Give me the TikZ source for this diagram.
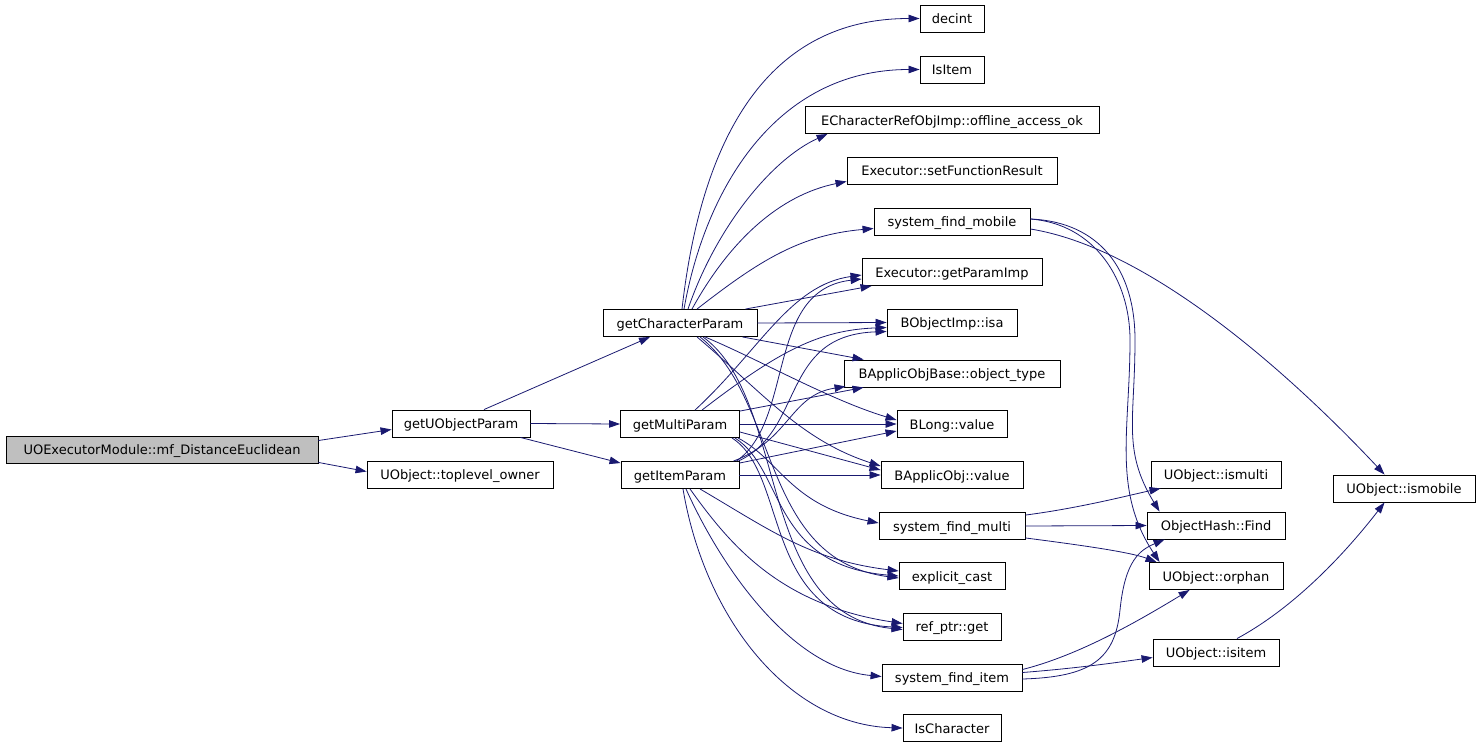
\documentclass[tikz,border=0pt]{standalone}
\usepackage{fontspec}
\setmainfont{DejaVu Sans}
\usetikzlibrary{arrows.meta,calc}
\definecolor{edgeblue}{RGB}{25,25,112}
\tikzset{
  fn/.style={draw=black, line width=0.9pt, fill=white, rectangle, minimum height=27pt, inner sep=0pt, text height=13pt, text depth=3pt, font=\fontsize{13}{15}\selectfont},
  rootfn/.style={fn, fill=black!25},
  call/.style={draw=edgeblue, line width=0.8pt, -{Triangle[length=11pt,width=7.5pt]}},
}
\begin{document}
\begin{tikzpicture}[x=1pt,y=-1pt]
\useasboundingbox (0,0) rectangle (1480,747);
% nodes
\node[rootfn, minimum width=312pt] (mf) at (162,449.5) {UOExecutorModule::mf\_DistanceEuclidean};
\node[fn, minimum width=138pt] (guop) at (461,423.5) {getUObjectParam};
\node[fn, minimum width=186pt] (tlo) at (460,474.5) {UObject::toplevel\_owner};
\node[fn, minimum width=154pt] (gcp) at (680,323) {getCharacterParam};
\node[fn, minimum width=119pt] (gmp) at (680,424) {getMultiParam};
\node[fn, minimum width=118pt] (gip) at (680,475) {getItemParam};
\node[fn, minimum width=64pt] (decint) at (952,18.5) {decint};
\node[fn, minimum width=64pt] (isitemF) at (952,69.5) {IsItem};
\node[fn, minimum width=294pt] (ecr) at (952,120) {ECharacterRefObjImp::offline\_access\_ok};
\node[fn, minimum width=210pt] (sfr) at (952,170.5) {Executor::setFunctionResult};
\node[fn, minimum width=156pt] (sfmob) at (952,221.5) {system\_find\_mobile};
\node[fn, minimum width=180pt] (gpi) at (952,272) {Executor::getParamImp};
\node[fn, minimum width=130pt] (isa) at (952,322.5) {BObjectImp::isa};
\node[fn, minimum width=216pt] (aot) at (952,373.5) {BApplicObjBase::object\_type};
\node[fn, minimum width=110pt] (blong) at (952,424) {BLong::value};
\node[fn, minimum width=142pt] (baov) at (952,475) {BApplicObj::value};
\node[fn, minimum width=146pt] (sfmul) at (952,526) {system\_find\_multi};
\node[fn, minimum width=106pt] (ecast) at (952,576) {explicit\_cast};
\node[fn, minimum width=98pt] (refget) at (952,626.5) {ref\_ptr::get};
\node[fn, minimum width=140pt] (sfitem) at (952,677.5) {system\_find\_item};
\node[fn, minimum width=98pt] (ischar) at (952,728) {IsCharacter};
\node[fn, minimum width=130pt] (ismulti) at (1216,474.5) {UObject::ismulti};
\node[fn, minimum width=138pt] (find) at (1216,525.5) {ObjectHash::Find};
\node[fn, minimum width=134pt] (orphan) at (1216,576) {UObject::orphan};
\node[fn, minimum width=126pt] (uisitem) at (1216,652.5) {UObject::isitem};
\node[fn, minimum width=142pt] (ismobile) at (1404,488.5) {UObject::ismobile};
% level 1
\draw[call] ($(mf.east)+(0,-9)$) -- ($(guop.west)+(0,6)$);
\draw[call] ($(mf.south east)+(0,-1)$) -- ($(tlo.west)+(0,-3)$);
% level 2
\draw[call] ($(guop.north)+(23,0)$) -- ($(gcp.south)+(-30,0)$);
\draw[call] (guop.east) -- (gmp.west);
\draw[call] ($(guop.south east)+(-10,0)$) -- ($(gip.north west)+(0,2)$);
% getCharacterParam
\draw[call] ($(gcp.north)+(2,0)$) .. controls (700,150) and (760,18.5) .. (decint.west);
\draw[call] ($(gcp.north)+(4,0)$) .. controls (705,190) and (775,69.5) .. (isitemF.west);
\draw[call] ($(gcp.north)+(8,0)$) .. controls (715,230) and (770,160) .. ($(ecr.south west)+(23,0)$);
\draw[call] ($(gcp.north)+(12,0)$) .. controls (730,240) and (780,195) .. ($(sfr.south west)+(0,-3)$);
\draw[call] ($(gcp.north)+(17,0)$) .. controls (760,260) and (800,235) .. ($(sfmob.west)+(0,7)$);
\draw[call] ($(gcp.north east)+(-12,0)$) -- ($(gpi.south west)+(10,0)$);
\draw[call] (gcp.east) -- (isa.west);
\draw[call] ($(gcp.south east)+(-15,0)$) -- ($(aot.north west)+(20,0)$);
\draw[call] ($(gcp.south)+(25,0)$) .. controls (760,360) and (830,400) .. ($(blong.west)+(0,-4)$);
\draw[call] ($(gcp.south)+(17,0)$) .. controls (760,390) and (800,440) .. ($(baov.west)+(0,-9)$);
\draw[call] ($(gcp.south)+(20,0)$) .. controls (780,400) and (760,560) .. ($(ecast.west)+(0,2)$);
\draw[call] ($(gcp.south)+(23,0)$) .. controls (790,400) and (755,615) .. ($(refget.west)+(0,3)$);
% getMultiParam
\draw[call] ($(gmp.north)+(15,0)$) .. controls (760,350) and (790,285) .. ($(gpi.west)+(0,3)$);
\draw[call] ($(gmp.north)+(22,0)$) .. controls (780,350) and (820,330) .. ($(isa.west)+(0,5)$);
\draw[call] ($(gmp.north east)+(0,1)$) -- ($(aot.south west)+(20,0)$);
\draw[call] (gmp.east) -- (blong.west);
\draw[call] ($(gmp.east)+(0,8)$) -- ($(baov.west)+(0,-5)$);
\draw[call] ($(gmp.south east)+(-2,0)$) .. controls (780,460) and (790,505) .. ($(sfmul.west)+(0,-3)$);
\draw[call] ($(gmp.south east)+(-5,0)$) .. controls (785,470) and (770,565) .. (ecast.west);
\draw[call] ($(gmp.south east)+(-8,0)$) .. controls (790,475) and (760,620) .. ($(refget.west)+(0,1)$);
% getItemParam
\draw[call] ($(gip.north east)+(-3,0)$) .. controls (795,420) and (765,290) .. ($(gpi.west)+(0,7)$);
\draw[call] ($(gip.north east)+(-1,0)$) .. controls (805,430) and (780,335) .. ($(isa.west)+(0,9)$);
\draw[call] ($(gip.north east)+(-6,0)$) .. controls (790,440) and (790,395) .. ($(aot.south west)+(2,-1)$);
\draw[call] ($(gip.north east)+(0,2)$) -- ($(blong.west)+(0,7)$);
\draw[call] (gip.east) -- (baov.west);
\draw[call] ($(gip.south)+(20,0)$) .. controls (770,530) and (810,560) .. ($(ecast.west)+(0,-5)$);
\draw[call] ($(gip.south)+(10,0)$) .. controls (730,545) and (780,605) .. ($(refget.west)+(0,-3)$);
\draw[call] ($(gip.south)+(6,0)$) .. controls (720,565) and (790,668) .. ($(sfitem.west)+(0,-1)$);
\draw[call] ($(gip.south)+(3,0)$) .. controls (705,620) and (790,725) .. (ischar.west);
% system_find_mobile
\draw[call] ($(sfmob.east)+(0,-2.5)$) .. controls (1100,222) and (1135,270) .. (1135,340) .. controls (1135,420) and (1122,450) .. ($(find.north west)+(13,0)$);
\draw[call] ($(sfmob.east)+(0,-2.5)$) .. controls (1095,224) and (1130,280) .. (1130,340) .. controls (1130,430) and (1112,490) .. ($(orphan.north west)+(11,0)$);
\draw[call] ($(sfmob.east)+(0,7.5)$) .. controls (1160,250) and (1310,395) .. ($(ismobile.north west)+(52,0)$);
% system_find_multi
\draw[call] ($(sfmul.north east)+(0,3)$) .. controls (1080,508) and (1130,495) .. ($(ismulti.south west)+(10,0)$);
\draw[call] (sfmul.east) -- (find.west);
\draw[call] ($(sfmul.south east)+(0,-2)$) .. controls (1080,545) and (1130,552) .. ($(orphan.north west)+(8,0)$);
% system_find_item
\draw[call] ($(sfitem.east)+(0,-5)$) .. controls (1080,668) and (1120,662) .. ($(uisitem.west)+(0,5)$);
\draw[call] ($(sfitem.east)+(0,-8)$) .. controls (1080,655) and (1140,620) .. ($(orphan.south west)+(41,0)$);
\draw[call] ($(sfitem.east)+(0,1.5)$) .. controls (1090,677) and (1115,660) .. (1120,610) .. controls (1125,560) and (1140,550) .. ($(find.south west)+(18,0)$);
% isitem
\draw[call] ($(uisitem.north)+(21,0)$) .. controls (1290,610) and (1340,560) .. ($(ismobile.south west)+(52,0)$);
\end{tikzpicture}
\end{document}
